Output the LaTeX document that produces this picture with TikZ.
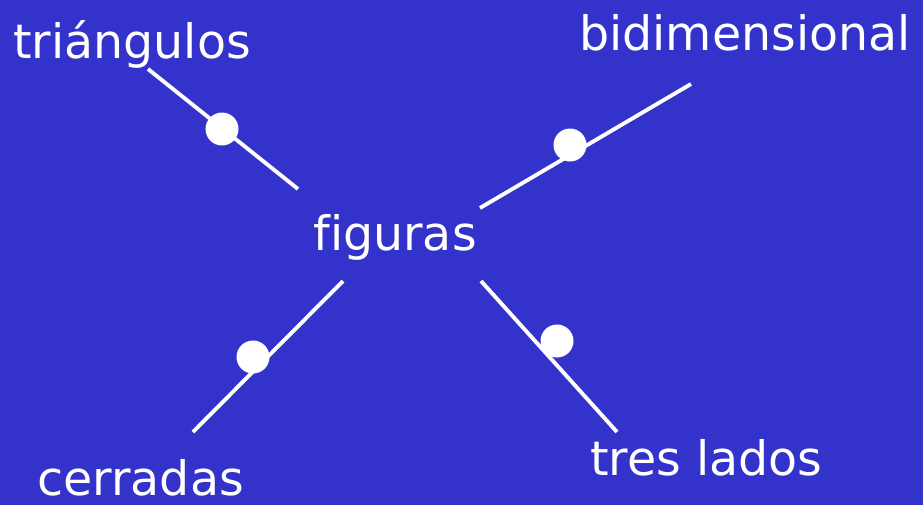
\documentclass[tikz,border=0pt]{standalone}
\usepackage{fontspec}
\setmainfont[Ligatures=NoCommon]{DejaVu Sans}
\definecolor{slidebg}{RGB}{51,51,204}
\begin{document}
\begin{tikzpicture}[
  x=0.02cm, y=-0.02cm,
  word/.style={text=white, font=\fontsize{27}{30}\selectfont, inner sep=0pt, anchor=base west},
  link/.style={draw=white, line width=2.2pt},
  dot/.style={circle, fill=white, minimum size=33*0.02cm, inner sep=0pt}
  ]

  % Background
  \fill[slidebg] (0,0) rectangle (923,505);
  \useasboundingbox (0,0) rectangle (923,505);

  % Words
  \node (figuras) [word] at (313,250) {figuras};
  \node (triangulos) [word] at (13,58) {triángulos};
  \node (bidim) [word] at (579,50) {bidimensional};
  \node (cerradas) [word] at (37,495) {cerradas};
  \node (treslados) [word] at (590,475) {tres lados};

  % Line ends
  \coordinate (tri-a) at (148,69);
  \coordinate (tri-b) at (298,189);
  \coordinate (bid-a) at (691,84);
  \coordinate (bid-b) at (480,208);
  \coordinate (cer-a) at (343,281);
  \coordinate (cer-b) at (193,432);
  \coordinate (tre-a) at (481,281);
  \coordinate (tre-b) at (617,432);

  % Connections
  \draw[link] (tri-a) -- (tri-b);
  \draw[link] (bid-a) -- (bid-b);
  \draw[link] (cer-a) -- (cer-b);
  \draw[link] (tre-a) -- (tre-b);

  % Dots
  \node (dot-tri) [dot] at (222,129) {};
  \node (dot-bid) [dot] at (570,145) {};
  \node (dot-cer) [dot] at (253,357) {};
  \node (dot-tre) [dot] at (557,341) {};

\end{tikzpicture}
\end{document}
